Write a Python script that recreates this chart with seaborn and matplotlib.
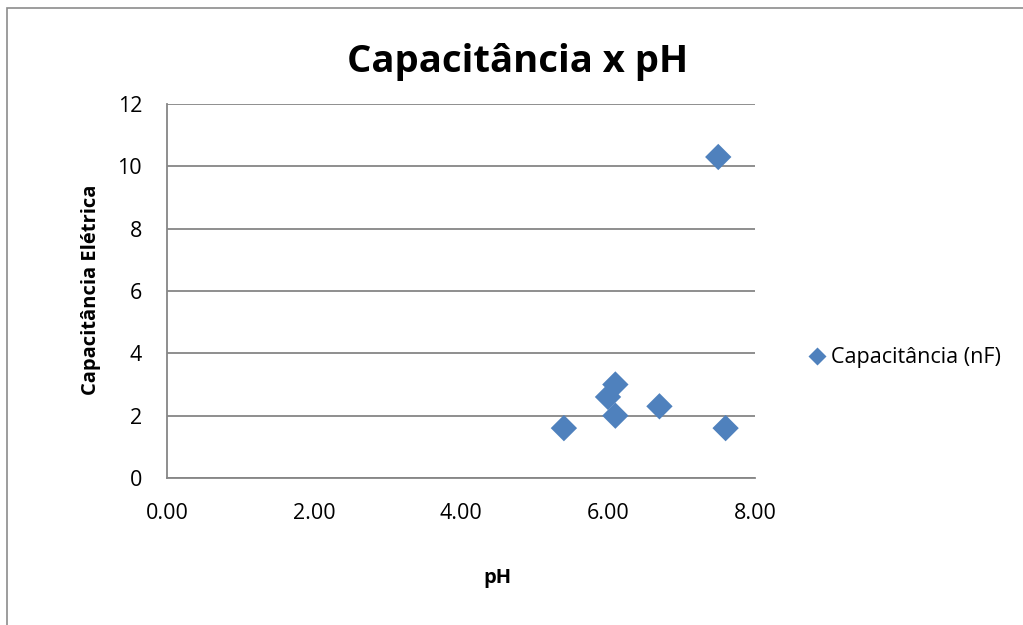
import matplotlib
matplotlib.use("Agg")
import matplotlib.pyplot as plt
from matplotlib.patches import Rectangle
from matplotlib.lines import Line2D
import seaborn as sns
import pandas as pd

# Measurements: pH vs electrical capacitance
ph = [5.4, 6.0, 6.1, 6.1, 6.7, 7.5, 7.6]
capacitance = [1.6, 2.6, 3.0, 2.0, 2.3, 10.3, 1.6]
x_ticks = [0, 2, 4, 6, 8]
y_ticks = [0, 2, 4, 6, 8, 10, 12]
series_name = "Capacitância (nF)"

df = pd.DataFrame({"pH": ph, "Capacitância": capacitance})

sns.set_theme(style="white")
plt.rcParams["font.family"] = ["Open Sans", "DejaVu Sans"]
plt.rcParams["text.color"] = "black"

blue = "#4F81BD"
grid_gray = "#868686"

fig = plt.figure(figsize=(10.23, 6.25), dpi=100)
ax = fig.add_axes([167 / 1023, 1 - 478 / 625, (755 - 167) / 1023, (478 - 104) / 625])

sns.scatterplot(data=df, x="pH", y="Capacitância", marker="D", s=180,
                color=blue, edgecolor="none", ax=ax, zorder=3, legend=False)

ax.set_xlim(0, 8)
ax.set_ylim(0, 12)
ax.set_xticks(x_ticks)
ax.set_xticklabels([f"{v:.2f}" for v in x_ticks])
ax.set_yticks(y_ticks)
ax.set_yticklabels([str(v) for v in y_ticks])
ax.yaxis.grid(True, color=grid_gray, linewidth=1.3)
ax.set_axisbelow(True)

for side in ("top", "right"):
    ax.spines[side].set_visible(False)
for side in ("left", "bottom"):
    ax.spines[side].set_color(grid_gray)
    ax.spines[side].set_linewidth(1.3)

ax.tick_params(axis="both", direction="out", width=1.3,
               color=grid_gray, labelsize=15.5, labelcolor="black")
ax.tick_params(axis="x", length=5, pad=13)
ax.tick_params(axis="y", length=6, pad=12)

ax.set_xlabel("")
ax.set_ylabel("")
fig.text(497 / 1023, 1 - 578 / 625, "pH", fontsize=14.5, fontweight="bold",
         ha="center", va="center")
fig.text(91 / 1023, 1 - 290 / 625, "Capacitância Elétrica", fontsize=14.5,
         fontweight="bold", ha="center", va="center", rotation=90)

fig.text(518 / 1023, 1 - 62 / 625, "Capacitância x pH", fontsize=27.5,
         fontweight="bold", ha="center", va="center")

handle = Line2D([], [], marker="D", linestyle="none", markersize=9.5,
                markerfacecolor=blue, markeredgecolor="none")
fig.legend([handle], [series_name], loc="center left",
           bbox_to_anchor=(785 / 1023, 1 - 358 / 625), frameon=False,
           fontsize=15.5, handletextpad=0.05, handlelength=1.2)

# Chart area border
fig.add_artist(Rectangle((7 / 1023, -0.1), 1.2, 1.1 - 8 / 625,
                         transform=fig.transFigure, fill=False,
                         edgecolor="#8c8c8c", linewidth=1.2))

fig.savefig("out.png", dpi=100)
